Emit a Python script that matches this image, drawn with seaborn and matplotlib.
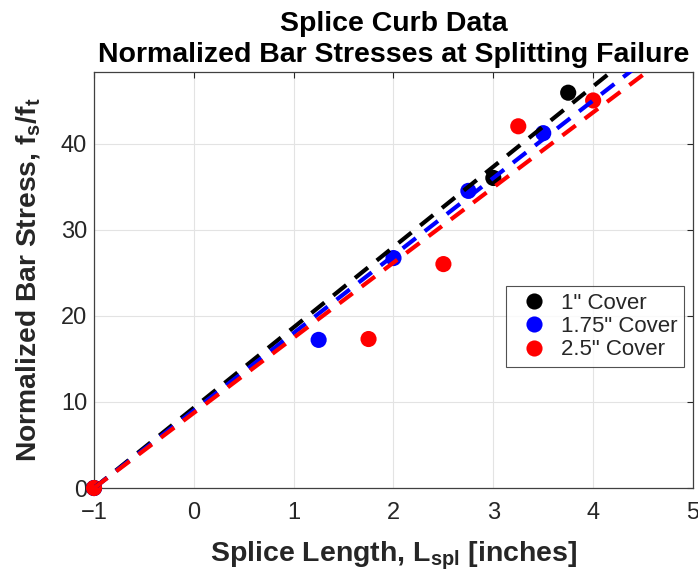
import matplotlib
matplotlib.use("Agg")
import matplotlib.pyplot as plt
import seaborn as sns
import pandas as pd

# test data
covers = ['1" Cover', '1.75" Cover', '2.5" Cover']
colors = ["#000000", "#0000ff", "#ff0000"]

splice_1 = [-1, 3.0, 3.75]
stress_1 = [0, 36.0, 45.9]
splice_175 = [-1, 1.25, 2.0, 2.75, 3.5]
stress_175 = [0, 17.2, 26.7, 34.5, 41.2]
splice_25 = [-1, 1.75, 2.5, 3.25, 4.0]
stress_25 = [0, 17.3, 26.0, 42.0, 45.0]

# fitted trend lines (end points)
fit_x = [-1, 4.8]
fit_1 = [0, 54.1]
fit_175 = [0, 52.2]
fit_25 = [0, 50.6]

pts = pd.concat([
    pd.DataFrame({"x": splice_1, "y": stress_1, "cover": covers[0]}),
    pd.DataFrame({"x": splice_175, "y": stress_175, "cover": covers[1]}),
    pd.DataFrame({"x": splice_25, "y": stress_25, "cover": covers[2]}),
])
fits = pd.concat([
    pd.DataFrame({"x": fit_x, "y": fit_1, "cover": covers[0]}),
    pd.DataFrame({"x": fit_x, "y": fit_175, "cover": covers[1]}),
    pd.DataFrame({"x": fit_x, "y": fit_25, "cover": covers[2]}),
])

sns.set_style("whitegrid")
plt.rcParams["font.family"] = ["Liberation Sans", "DejaVu Sans"]
plt.rcParams["mathtext.fontset"] = "custom"
plt.rcParams["mathtext.rm"] = "Liberation Sans"
plt.rcParams["mathtext.bf"] = "Liberation Sans:bold"

fig = plt.figure(figsize=(6.98, 5.73), dpi=100)
ax = fig.add_axes([0.1347, 0.1483, 0.8581, 0.726])

pal = dict(zip(covers, colors))
# trend lines first so only they get the dash pattern
sns.lineplot(data=fits, x="x", y="y", hue="cover", palette=pal, ax=ax,
             linewidth=3.0, legend=False, zorder=4)
for ln in ax.get_lines():
    ln.set_linestyle((0, (4.0, 2.7)))
    ln.set_dash_capstyle("butt")

sns.scatterplot(data=pts, x="x", y="y", hue="cover", palette=pal, s=135,
                edgecolor="none", ax=ax, zorder=3, clip_on=False)

ax.set_xlim(-1, 5)
ax.set_ylim(0, 48.3)
ax.set_xticks([-1, 0, 1, 2, 3, 4, 5])
ax.set_yticks([0, 10, 20, 30, 40])
ax.tick_params(labelsize=17, colors="#262626", direction="in", length=4,
               top=True, right=True)
ax.tick_params(axis="x", pad=10)
ax.tick_params(axis="y", pad=5)
ax.grid(True, color="#e3e3e3", linewidth=0.8)
for sp in ax.spines.values():
    sp.set_color("#404040")
    sp.set_linewidth(0.9)
    sp.set_visible(True)

ax.set_xlabel(r"Splice Length, L$_{\mathbf{spl}}$ [inches]", fontsize=20.5,
              fontweight="bold", color="#262626", labelpad=11)
ax.set_ylabel(r"Normalized Bar Stress, f$_{\mathbf{s}}$/f$_{\mathbf{t}}$",
              fontsize=20.3, fontweight="bold", color="#262626", labelpad=13)
ax.set_title("Splice Curb Data\nNormalized Bar Stresses at Splitting Failure",
             fontsize=20.5, fontweight="bold", color="#000000", pad=7,
             linespacing=1.28)

handles, labels = ax.get_legend_handles_labels()
leg = ax.legend(handles, labels, loc="upper right", bbox_to_anchor=(0.985, 0.485),
                fontsize=16, frameon=True, fancybox=False, edgecolor="#262626",
                handletextpad=0.25, borderpad=0.3, labelspacing=0.1,
                handlelength=1.9, borderaxespad=0)
leg.get_frame().set_linewidth(0.8)

fig.savefig("out.png", dpi=100)
